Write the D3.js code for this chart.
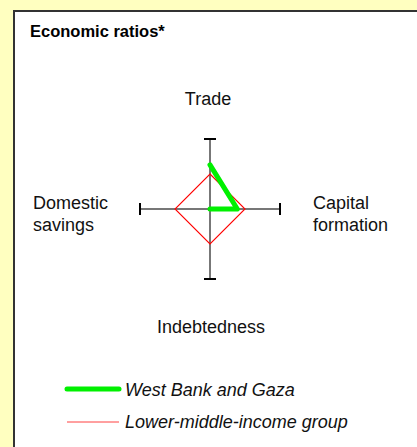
<!DOCTYPE html>
<html>
<head>
<meta charset="utf-8">
<script src="https://cdn.jsdelivr.net/npm/d3@7"></script>
<style>
  body { margin: 0; background: #ffffc0; }
  svg { display: block; font-family: Arial, "Liberation Sans", sans-serif; }
</style>
</head>
<body>
<svg width="417" height="447"></svg>
<script>
var categories = ['Trade', 'Capital formation', 'Indebtedness', 'Domestic savings'],
    westBank = [0.63, 0.39, 0, 0],
    lowerMiddle = [0.5, 0.5, 0.5, 0.5],
    seriesNames = ['West Bank and Gaza', 'Lower-middle-income group'];

var svg = d3.select('svg'),
    cx = 210,
    cy = 209,
    r = d3.scaleLinear().domain([0, 1]).range([0, 70]),
    angle = d3.scalePoint().domain(categories).range([0, 2 * Math.PI * 3 / 4]);

// panel
svg.append('rect').attr('x', 0).attr('y', 0).attr('width', 417).attr('height', 447).attr('fill', '#ffffc0');
svg.append('rect').attr('x', 14).attr('y', 11).attr('width', 420).attr('height', 450)
   .attr('fill', '#fff').attr('stroke', '#333').attr('stroke-width', 2);

svg.append('text').attr('x', 30).attr('y', 37)
   .attr('font-size', 16.5).attr('font-weight', 'bold').text('Economic ratios*');

function pt(c, v) {
  var a = angle(c);
  return [cx + r(v) * Math.sin(a), cy - r(v) * Math.cos(a)];
}

var g = svg.append('g');

// axes
categories.forEach(function(c) {
  var p = pt(c, 1), a = angle(c);
  g.append('line').attr('x1', cx).attr('y1', cy).attr('x2', p[0]).attr('y2', p[1])
   .attr('stroke', '#777').attr('stroke-width', 2);
  var dx = 6 * Math.cos(a), dy = 6 * Math.sin(a);
  g.append('line').attr('x1', p[0] - dx).attr('y1', p[1] - dy).attr('x2', p[0] + dx).attr('y2', p[1] + dy)
   .attr('stroke', '#000').attr('stroke-width', 2);
});

var line = d3.line().x(function(d) { return d[0]; }).y(function(d) { return d[1]; });

g.append('path')
 .attr('d', line(categories.map(function(c, i) { return pt(c, lowerMiddle[i]); })) + 'Z')
 .attr('fill', 'none').attr('stroke', '#ff0000').attr('stroke-width', 1.1);

g.append('path')
 .attr('d', line(categories.map(function(c, i) { return pt(c, westBank[i]); })))
 .attr('fill', 'none').attr('stroke', '#00f000').attr('stroke-width', 5)
 .attr('stroke-linejoin', 'round').attr('stroke-linecap', 'round');

// category labels
var labels = svg.append('g').attr('font-size', 18).attr('fill', '#111');
labels.append('text').attr('x', 208).attr('y', 105).attr('text-anchor', 'middle').text(categories[0]);
labels.append('text').attr('x', 211).attr('y', 333).attr('text-anchor', 'middle').text(categories[2]);
var cap = categories[1].split(' '), dom = categories[3].split(' ');
cap.forEach(function(w, i) {
  labels.append('text').attr('x', 313).attr('y', 209 + i * 22).text(w);
});
dom.forEach(function(w, i) {
  labels.append('text').attr('x', 33).attr('y', 209 + i * 22).text(w);
});

// legend
var legend = svg.append('g').attr('font-size', 18).attr('font-style', 'italic').attr('fill', '#111');
var legendStyle = [{ color: '#00f000', width: 5 }, { color: '#ff4040', width: 1 }];
seriesNames.forEach(function(n, i) {
  var y = 389 + i * 33;
  legend.append('line').attr('x1', 67).attr('x2', 119).attr('y1', y).attr('y2', y)
        .attr('stroke', legendStyle[i].color).attr('stroke-width', legendStyle[i].width)
        .attr('stroke-linecap', i === 0 ? 'round' : 'butt');
  legend.append('text').attr('x', 125).attr('y', y + 7 - i).text(n);
});
</script>
</body>
</html>
